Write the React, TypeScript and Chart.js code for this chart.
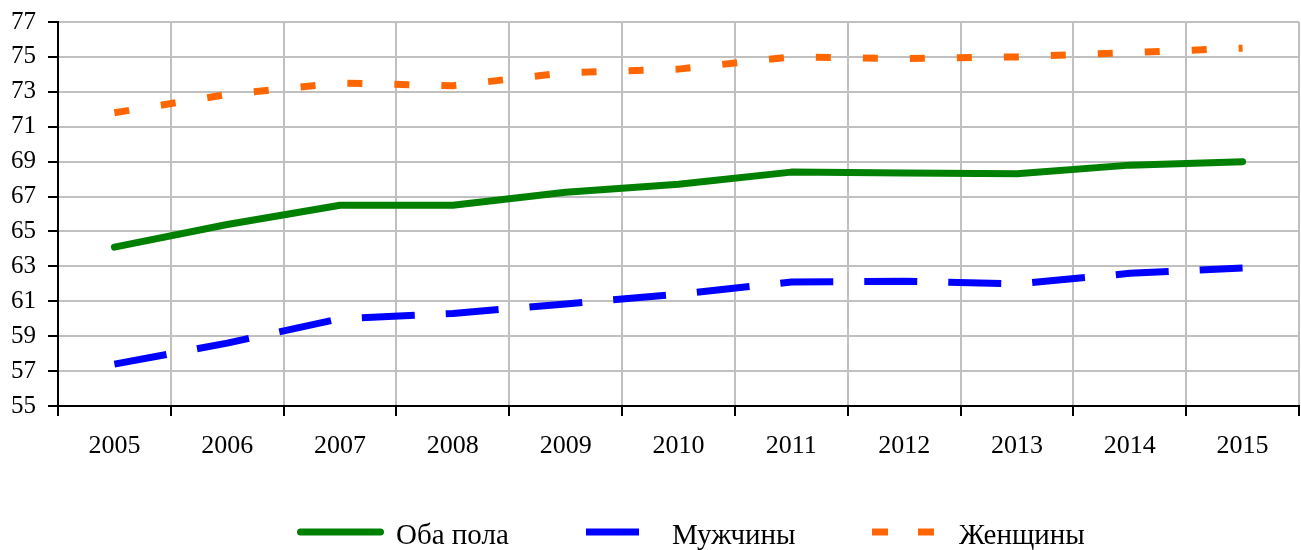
import React, { useEffect, useRef } from "react";
import { Chart, registerables } from "chart.js";

Chart.register(...registerables);

const years = ["2005", "2006", "2007", "2008", "2009", "2010", "2011", "2012", "2013", "2014", "2015"];
const bothSexes = [64.1, 65.4, 66.5, 66.5, 67.25, 67.7, 68.4, 68.35, 68.3, 68.8, 69.0];
const men = [57.4, 58.6, 60.0, 60.3, 60.85, 61.4, 62.1, 62.15, 62.0, 62.6, 62.9];
const women = [71.8, 72.85, 73.5, 73.35, 74.1, 74.3, 75.0, 74.9, 75.0, 75.25, 75.5];
const seriesNames = ["Оба пола", "Мужчины", "Женщины"];
const yMin = 55;
const yMax = 77;
const yStep = 2;

const FONT = "'Liberation Serif', 'Times New Roman', serif";

const legendPlugin = {
  id: "customLegend",
  afterDraw(chart: any) {
    const ctx = chart.ctx as CanvasRenderingContext2D;
    const slots = [
      { sx: 297, ex: 384, tx: 396 },
      { sx: 586, ex: 640, tx: 672 },
      { sx: 872, ex: 934, tx: 959 },
    ];
    const y = 532;
    chart.data.datasets.forEach((ds: any, i: number) => {
      const s = slots[i];
      ctx.save();
      ctx.strokeStyle = ds.borderColor;
      ctx.lineWidth = ds.borderWidth;
      ctx.lineCap = ds.borderCapStyle || "butt";
      ctx.setLineDash(ds.legendDash || ds.borderDash || []);
      ctx.beginPath();
      const inset = ctx.lineCap === "round" ? ds.borderWidth / 2 : 0;
      ctx.moveTo(s.sx + inset, y);
      ctx.lineTo(s.ex - inset, y);
      ctx.stroke();
      ctx.restore();
      ctx.save();
      ctx.fillStyle = "#000";
      ctx.font = `29px ${FONT}`;
      ctx.textBaseline = "alphabetic";
      ctx.textAlign = "left";
      ctx.fillText(ds.label, s.tx, 544);
      ctx.restore();
    });
  },
};

export default function App() {
  const canvasRef = useRef<HTMLCanvasElement | null>(null);

  useEffect(() => {
    if (!canvasRef.current) return;
    const chart = new Chart(canvasRef.current, {
      type: "line",
      data: {
        labels: years,
        datasets: [
          {
            label: seriesNames[0],
            data: bothSexes,
            borderColor: "#008000",
            backgroundColor: "#008000",
            borderWidth: 7,
            borderCapStyle: "round",
            borderJoinStyle: "round",
            pointRadius: 0,
            tension: 0,
            fill: false,
          },
          {
            label: seriesNames[1],
            data: men,
            borderColor: "#0000FF",
            backgroundColor: "#0000FF",
            borderWidth: 7,
            borderDash: [53, 31],
            borderCapStyle: "butt",
            borderJoinStyle: "miter",
            pointRadius: 0,
            tension: 0,
            fill: false,
          },
          {
            label: seriesNames[2],
            data: women,
            borderColor: "#FF6600",
            backgroundColor: "#FF6600",
            borderWidth: 7,
            borderDash: [15, 32],
            legendDash: [16, 30],
            borderCapStyle: "butt",
            borderJoinStyle: "miter",
            pointRadius: 0,
            tension: 0,
            fill: false,
          } as any,
        ],
      },
      options: {
        animation: false,
        responsive: false,
        maintainAspectRatio: false,
        layout: { padding: { top: 22, right: 2, left: 0, bottom: 0 } },
        plugins: {
          legend: { display: false },
          tooltip: { enabled: false },
        },
        scales: {
          x: {
            type: "category",
            offset: true,
            grid: {
              offset: true,
              color: "#C0C0C0",
              lineWidth: 2,
              tickColor: "#000",
              tickLength: 10,
              tickWidth: 2,
              drawTicks: true,
            },
            border: { display: true, color: "#000", width: 2 },
            ticks: {
              color: "#000",
              font: { family: FONT, size: 26 },
              padding: 15,
              maxRotation: 0,
              autoSkip: false,
            },
            afterFit: (s: any) => {
              s.height = 144;
              s.paddingLeft = 0;
              s.paddingRight = 0;
            },
          },
          y: {
            min: yMin,
            max: yMax,
            grid: {
              color: "#C0C0C0",
              lineWidth: 2,
              tickColor: "#000",
              tickLength: 10,
              tickWidth: 2,
            },
            border: { display: true, color: "#000", width: 2 },
            ticks: {
              stepSize: yStep,
              color: "#000",
              font: { family: FONT, size: 25 },
              padding: 12,
            },
            afterFit: (s: any) => {
              s.width = 58;
              s.paddingTop = 0;
              s.paddingBottom = 0;
            },
          },
        },
      },
      plugins: [legendPlugin],
    });
    return () => chart.destroy();
  }, []);

  return (
    <div style={{ position: "absolute", left: 0, top: 0, width: 1301, height: 550, background: "#fff" }}>
      <canvas ref={canvasRef} width={1301} height={550} style={{ display: "block" }} />
    </div>
  );
}
